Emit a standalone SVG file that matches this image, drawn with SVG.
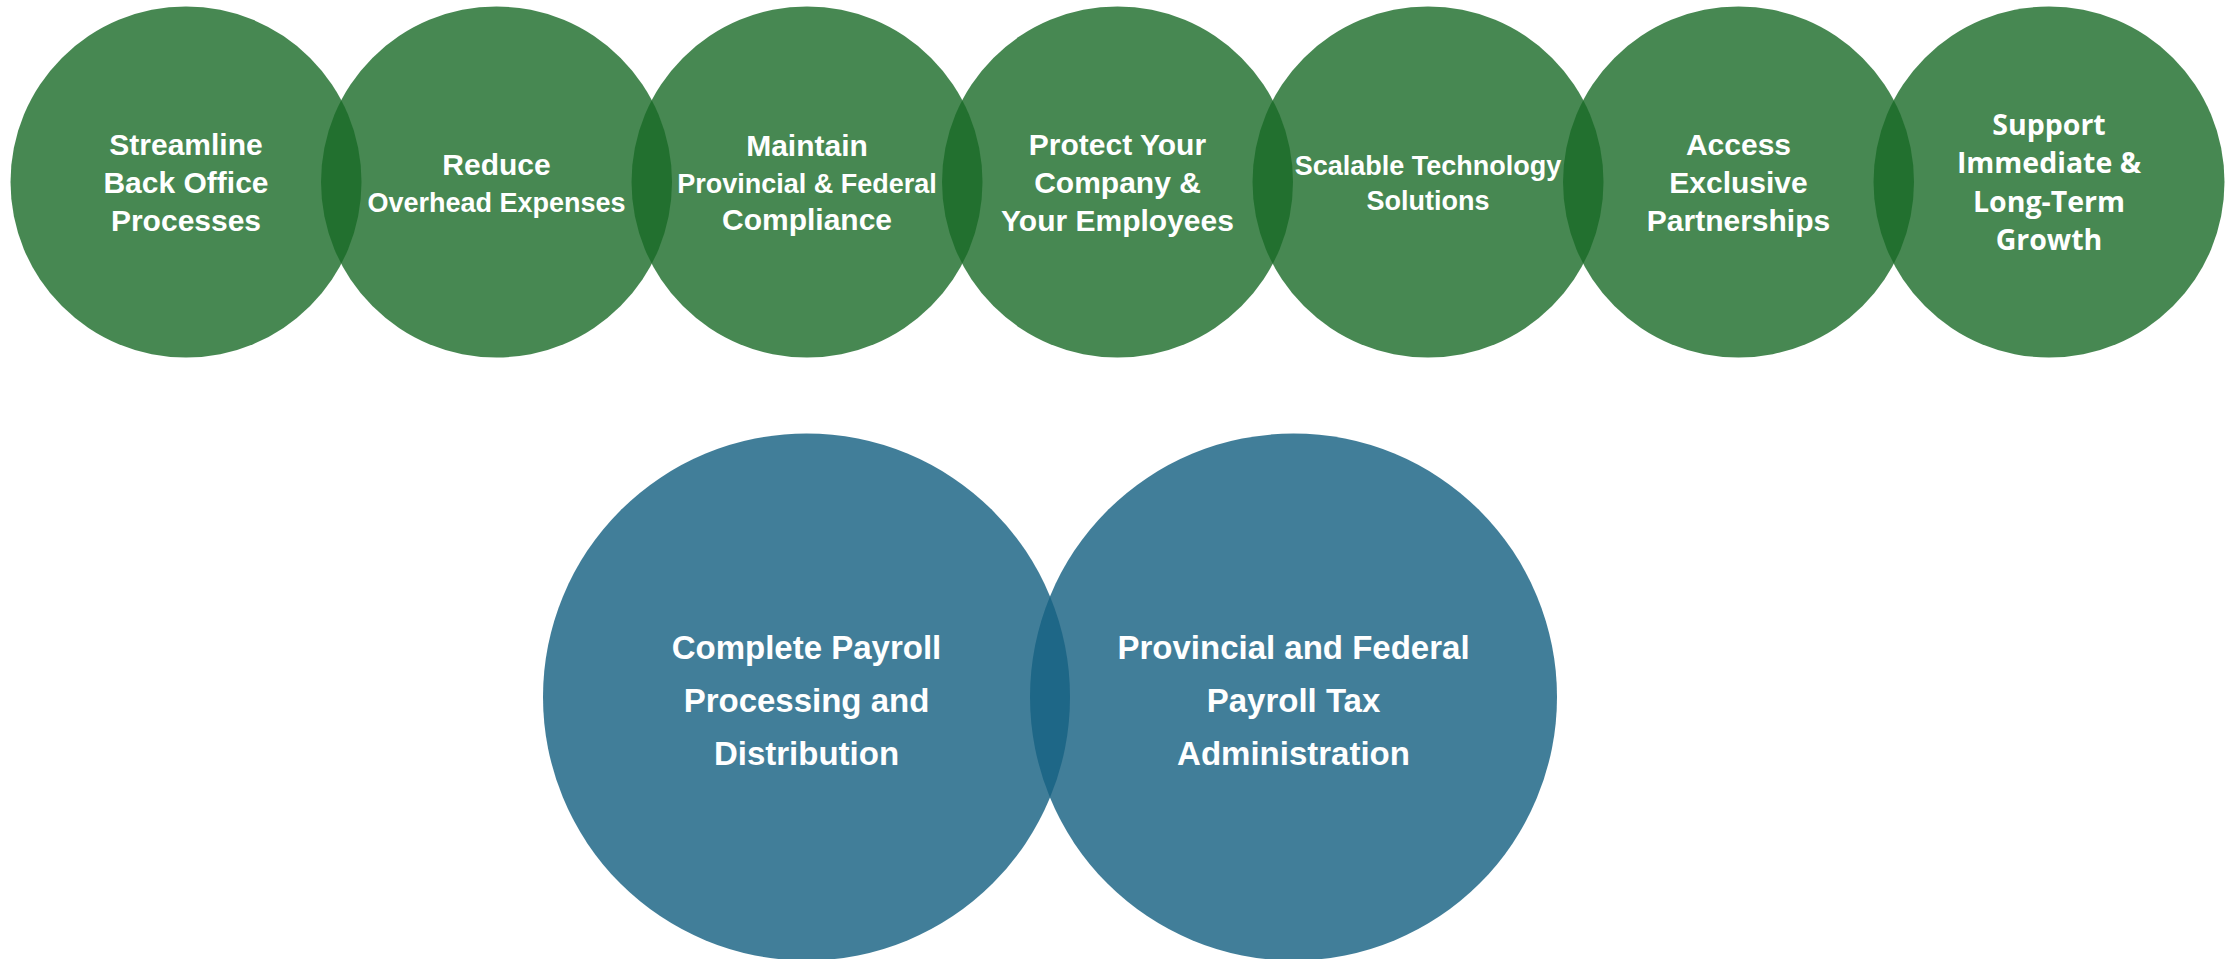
<svg xmlns="http://www.w3.org/2000/svg" width="2240" height="959" viewBox="0 0 2240 959">
<style>
.g{fill:#196A27;fill-opacity:0.8}
.b{fill:#176283;fill-opacity:0.82}
text{fill:#ffffff;font-family:"Liberation Sans",Arial,sans-serif;font-weight:700;text-anchor:middle}
.L{font-size:30px}
.S{font-size:27px}
.B{font-size:33px}
.U{font-family:"Open Sans","Liberation Sans",sans-serif;font-size:28.5px}
</style>
<rect width="2240" height="959" fill="#ffffff"/>
<g id="connectors"/>
<g id="n7"><circle class="g" cx="2049" cy="182" r="175.5"/>
<text class="U" x="2049" y="135">Support</text><text class="U" x="2049" y="173">Immediate &amp;</text><text class="U" x="2049" y="212">Long-Term</text><text class="U" x="2049" y="250">Growth</text></g>
<g id="n6"><circle class="g" cx="1738.5" cy="182" r="175.5"/>
<text class="L" x="1738.5" y="155">Access</text><text class="L" x="1738.5" y="193">Exclusive</text><text class="L" x="1738.5" y="231">Partnerships</text></g>
<g id="n5"><circle class="g" cx="1428" cy="182" r="175.5"/>
<text class="S" x="1428" y="175">Scalable Technology</text><text class="S" x="1428" y="210">Solutions</text></g>
<g id="n4"><circle class="g" cx="1117.5" cy="182" r="175.5"/>
<text class="L" x="1117.5" y="155">Protect Your</text><text class="L" x="1117.5" y="193">Company &amp;</text><text class="L" x="1117.5" y="231">Your Employees</text></g>
<g id="n3"><circle class="g" cx="807" cy="182" r="175.5"/>
<text class="L" x="807" y="156">Maintain</text><text class="S" x="807" y="193">Provincial &amp; Federal</text><text class="L" x="807" y="230">Compliance</text></g>
<g id="n2"><circle class="g" cx="496.5" cy="182" r="175.5"/>
<text class="L" x="496.5" y="175">Reduce</text><text class="S" x="496.5" y="212">Overhead Expenses</text></g>
<g id="n1"><circle class="g" cx="186" cy="182" r="175.5"/>
<text class="L" x="186" y="155">Streamline</text><text class="L" x="186" y="193">Back Office</text><text class="L" x="186" y="231">Processes</text></g>
<g id="b2"><circle class="b" cx="1293.5" cy="697" r="263.5"/>
<text class="B" x="1293.5" y="659">Provincial and Federal</text><text class="B" x="1293.5" y="712">Payroll Tax</text><text class="B" x="1293.5" y="765">Administration</text></g>
<g id="b1"><circle class="b" cx="806.5" cy="697" r="263.5"/>
<text class="B" x="806.5" y="659">Complete Payroll</text><text class="B" x="806.5" y="712">Processing and</text><text class="B" x="806.5" y="765">Distribution</text></g>
</svg>
